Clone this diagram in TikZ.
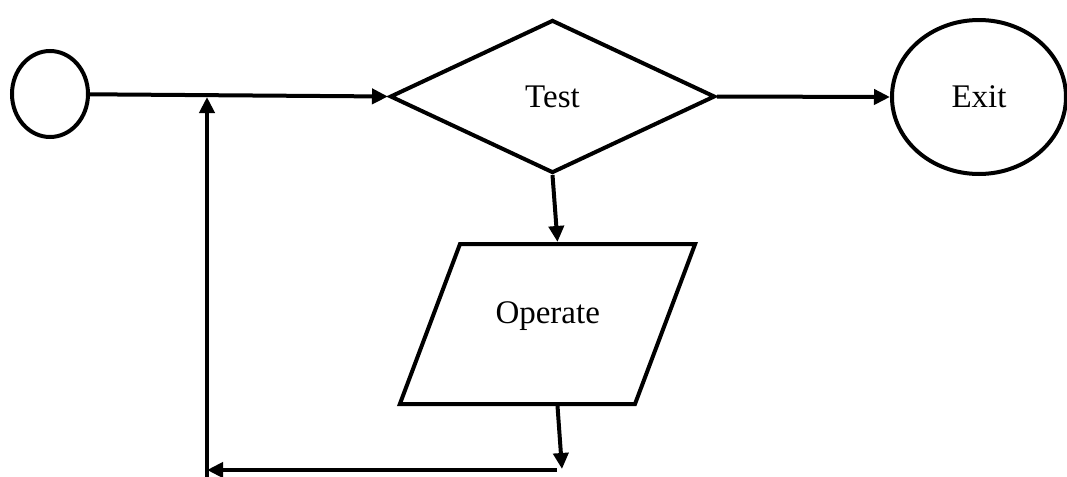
\documentclass[tikz,border=0pt]{standalone}
\usepackage{fontspec}
\setmainfont{Liberation Serif}
\usetikzlibrary{shapes.geometric,arrows.meta,calc}

\begin{document}
\begin{tikzpicture}[x=0.5pt, y=-0.5pt]
\tikzset{rond/.style={draw, ellipse, line width=2pt, inner sep=0pt},
  losange/.style={draw, diamond, line width=2pt, inner sep=0pt, minimum width=162.5pt, minimum height=76.5pt},
  parallelo/.style={draw, trapezium, trapezium left angle=69.4, trapezium right angle=110.6, line width=2pt, inner xsep=17.75pt, inner ysep=32pt, text width=52pt, align=center, text height=7.5pt, text depth=8.5pt},
  fleche/.style={line width=2pt, -{Triangle[length=8pt, width=7.5pt]}},
  every node/.style={font=\fontsize{16.5}{19}\selectfont}}
\useasboundingbox (0, 0) rectangle (1067, 477);
\node[rond, minimum width=38pt, minimum height=43pt] (D) at (50, 94) {};
\node[losange] (T) at (552.5, 96.5) {Test};
\node[rond, minimum width=87pt, minimum height=77pt] (E) at (979, 97) {Exit};
\node[parallelo] (O) at (547.5, 324) {Operate};
\coordinate (B1) at (562, 469);
\coordinate (B2) at (557, 470);
\coordinate (G1) at (207, 470);
\coordinate (G0) at (207, 478);
\coordinate (G2) at (207, 97);
\draw[fleche] (D) -- (T.west);
\draw[fleche] (T.east) -- (E.west);
\draw[fleche] (T.south) -- ($(O.north)+(10, 0)$);
\draw[fleche] ($(O.south)+(10, 0)$) -- (B1);
\draw[fleche] (B2) -- (G1);
\draw[fleche] (G0) -- (G2);
\end{tikzpicture}
\end{document}
